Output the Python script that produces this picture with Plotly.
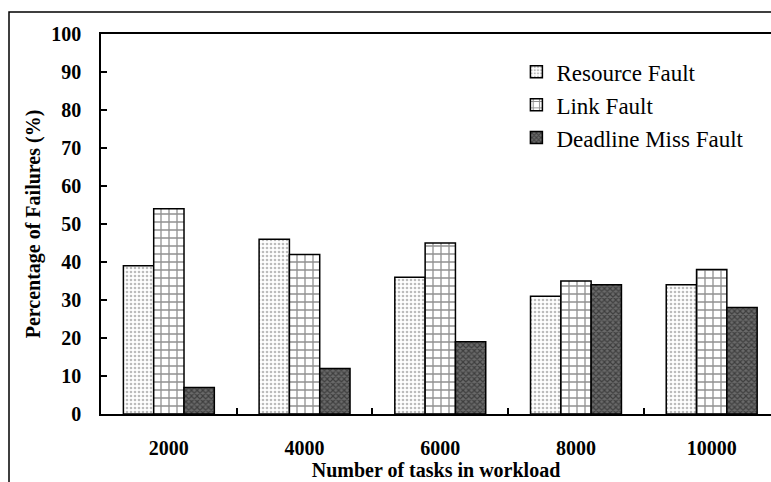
import plotly.graph_objects as go

# Workload sizes (number of tasks) and failure percentages per fault type
workloads = ["2000", "4000", "6000", "8000", "10000"]
resource_fault = [39, 46, 36, 31, 34]
link_fault = [54, 42, 45, 35, 38]
deadline_miss_fault = [7, 12, 19, 34, 28]

series_names = ["Resource Fault", "Link Fault", "Deadline Miss Fault"]
y_ticks = [0, 10, 20, 30, 40, 50, 60, 70, 80, 90, 100]

SERIF = "Liberation Serif"

patterns = [
    dict(shape=".", fgcolor="#7a7a7a", bgcolor="white", size=4, solidity=0.35),
    dict(shape="+", fgcolor="#222222", bgcolor="white", size=8, solidity=0.3),
    dict(shape="x", fgcolor="#111111", bgcolor="#6a6a6a", size=4, solidity=0.5),
]

fig = go.Figure()
for name, vals, pat in zip(series_names, [resource_fault, link_fault, deadline_miss_fault], patterns):
    fig.add_trace(go.Bar(
        x=workloads, y=vals, name=name,
        marker=dict(color="white", pattern=pat, line=dict(color="black", width=1.5)),
    ))

W, H = 771, 482
ML, MR, MT, MB = 101, 0, 34, 68
pw = W - ML - MR
ph = H - MT - MB

# outer frame around the whole figure (left and top edges visible)
fig.add_shape(
    type="rect", xref="paper", yref="paper",
    x0=(9 - ML) / pw, x1=1 + 20 / pw,
    y0=-(MB + 20) / ph, y1=1 + (MT - 12) / ph,
    line=dict(color="black", width=1.5), fillcolor="rgba(0,0,0,0)", layer="below",
)

fig.update_layout(
    width=W, height=H,
    margin=dict(l=ML, r=MR, t=MT, b=MB),
    plot_bgcolor="white", paper_bgcolor="white",
    barmode="group", bargap=0.33, bargroupgap=0,
    showlegend=True,
    font=dict(family=SERIF, color="black"),
    legend=dict(
        x=0.62, y=0.957, xanchor="left", yanchor="top",
        font=dict(family=SERIF, size=23, color="black"),
        bgcolor="rgba(0,0,0,0)", itemwidth=30, tracegroupgap=0,
    ),
    xaxis=dict(
        type="category", range=[-0.5, 4.437],
        showline=True, linecolor="black", linewidth=1.5, mirror=True,
        ticks="inside", ticklen=6, tickwidth=1.5, tickcolor="black",
        tickson="boundaries", showgrid=False,
        tickfont=dict(family=SERIF, size=20, color="black", weight="bold"),
        ticklabelstandoff=15,
        title=dict(text="<b>Number of tasks in workload</b>",
                   font=dict(family=SERIF, size=20, color="black"), standoff=2),
    ),
    yaxis=dict(
        range=[0, 100], tickvals=y_ticks,
        showline=True, linecolor="black", linewidth=1.5, mirror=False,
        ticks="inside", ticklen=6, tickwidth=1.5, tickcolor="black",
        showgrid=False, zeroline=False,
        tickfont=dict(family=SERIF, size=20, color="black", weight="bold"),
        ticklabelstandoff=14,
        title=dict(text="<b>Percentage of Failures (%)</b>",
                   font=dict(family=SERIF, size=20, color="black"), standoff=5),
    ),
)

fig.write_html("out.html")
